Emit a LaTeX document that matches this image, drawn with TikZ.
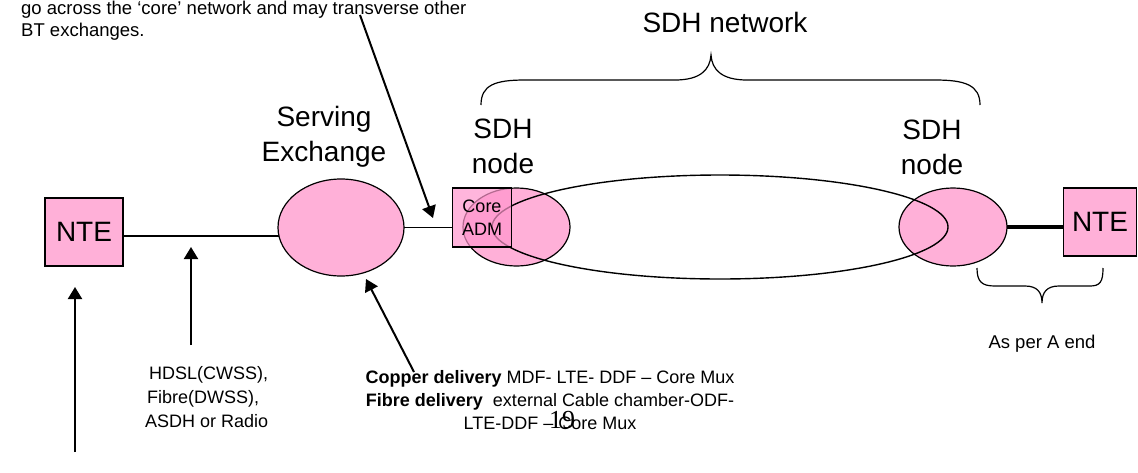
\documentclass[tikz,border=0pt]{standalone}
\usepackage{fontspec}
\setmainfont{Liberation Sans}
\newfontfamily\pagenumfont{Liberation Serif}
\usetikzlibrary{arrows.meta,shapes.geometric,backgrounds}

\definecolor{nodepink}{RGB}{255,176,216}
\definecolor{admpink}{RGB}{255,150,205}

\tikzset{
  big/.style={font=\fontsize{28}{35}\selectfont, align=center, inner sep=0pt},
  small/.style={font=\fontsize{18.5}{22}\selectfont, inner sep=0pt},
  ntebox/.style={draw=black, line width=1.2pt, fill=nodepink, minimum width=78pt,
    minimum height=68pt, font=\fontsize{28}{34}\selectfont, inner sep=0pt},
  site/.style={ellipse, draw=black, line width=1.2pt, fill=nodepink, inner sep=0pt},
  ringstyle/.style={ellipse, draw=black, line width=1.4pt, inner sep=0pt},
  admbox/.style={draw=black, line width=1.2pt, fill=admpink, fill opacity=0.7,
    text opacity=1, minimum width=59pt, minimum height=59pt, inner sep=0pt,
    align=center, font=\fontsize{18}{23}\selectfont},
  link/.style={line width=1.3pt},
  heavylink/.style={line width=3.5pt},
  pointer/.style={line width=2pt, -{Triangle[length=12pt,width=14pt]}},
  bracket/.style={line width=1.2pt},
}

\begin{document}
\begin{tikzpicture}[x=1pt,y=-1pt]
\useasboundingbox (0,0) rectangle (1138,472);

% explanatory note at the top left
\node[small, anchor=north west, align=left] (note) at (21,1)
  {go across the ‘core’ network and may transverse other\\BT exchanges.};

% headings
\node[big, anchor=base] (sdhnet) at (725,32) {SDH network};
\node[big, anchor=south] (servlbl) at (324,168) {Serving\\Exchange};
\node[big, anchor=south] (sdhA) at (503,174) {SDH\\node};
\node[big, anchor=south] (sdhB) at (932,175) {SDH\\node};

% equipment
\node[ntebox] (nteA) at (84,232) {NTE};
\node[site, minimum width=126pt, minimum height=97pt] (serving) at (341,227.5) {};
\node[site, minimum width=107pt, minimum height=78pt] (siteA) at (516.5,227) {};
\node[site, minimum width=108pt, minimum height=78pt] (siteB) at (953,227) {};
\node[ringstyle, minimum width=456pt, minimum height=104pt] (ring) at (720,227) {};
\node[admbox] (adm) at (482,217.5) {Core\\ADM};
\node[ntebox, minimum width=73pt] (nteB) at (1100,222) {NTE};

% links, kept behind the equipment
\begin{scope}[on background layer]
  \draw[link] ([yshift=-4pt]nteA.east) -- ([yshift=-4pt]nteA.east -| serving.center);
  \draw[link] (serving.center) -- (serving.center -| adm.west);
  \draw[heavylink] (siteB.center) -- (siteB.center -| nteB.west);
\end{scope}

% braces
\draw[bracket] (481,105) .. controls (481,85) and (495,80) .. (525,80) -- (675,80)
  .. controls (700,80) and (710,70) .. (711,55)
  .. controls (712,70) and (722,80) .. (747,80) -- (935,80)
  .. controls (965,80) and (980,85) .. (980,105);
\draw[bracket] (977,268) .. controls (977,282) and (982,286) .. (995,286) -- (1025,286)
  .. controls (1037,286) and (1042,292) .. (1042,303)
  .. controls (1042,292) and (1047,286) .. (1059,286) -- (1090,286)
  .. controls (1100,286) and (1103,282) .. (1103,268);
\node[small, anchor=base] (asper) at (1042,348) {As per A end};

% pointers
\coordinate (noteFoot) at (360,15);
\coordinate (coreTip) at (433,218);
\draw[pointer] (noteFoot) -- (coreTip);

\coordinate (nteFoot) at (75,452);
\coordinate (nteTip) at (75,287);
\draw[pointer] (nteFoot) -- (nteTip);

\coordinate (accFoot) at (191,345);
\coordinate (accTip) at (191,247);
\draw[pointer] (accFoot) -- (accTip);

\coordinate (delFoot) at (414,372);
\coordinate (delTip) at (366,279);
\draw[pointer] (delFoot) -- (delTip);

% captions
\node[small, font=\fontsize{18}{24}\selectfont, anchor=north west, align=left] (access) at (145,366)
  {\hspace{4pt}HDSL(CWSS),\\\hspace{2pt}Fibre(DWSS),\\ASDH or Radio};
\node[small, font=\fontsize{18}{23}\selectfont, align=center] (delivery) at (550,400)
  {\textbf{Copper delivery} MDF- LTE- DDF – Core Mux\\
   \textbf{Fibre delivery}\ \ external Cable chamber-ODF-\\
   LTE-DDF – Core Mux};
\node[inner sep=0pt, anchor=base, font=\pagenumfont\fontsize{26}{26}\selectfont] (pagenum) at (562,428) {19};
\end{tikzpicture}
\end{document}
